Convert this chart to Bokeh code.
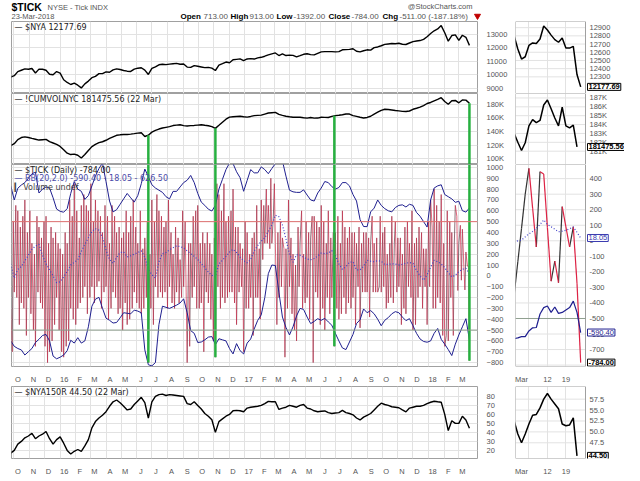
import numpy as np
import pandas as pd
from bokeh.plotting import figure
from bokeh.layouts import column, row
from bokeh.models import FixedTicker, Span, Label, Range1d
from bokeh.core.properties import value
from bokeh.embed import file_html
from bokeh.resources import INLINE

# ---------------- data ----------------
# weekly values, Fridays 2015-09-25 .. 2018-03-23
nya_weekly = [
    9850, 9950, 10250, 10350, 10450, 10420, 10480, 10150, 10430, 10420, 10350, 10050, 10020, 10250,
    10140, 9650, 9450, 9300, 9400, 9250, 9050, 9350, 9550, 9800, 9900, 10100, 10100,
    10230, 10200, 10380, 10450, 10400, 10330, 10280, 10260, 10430, 10500, 10530, 10360, 10040,
    10480, 10600, 10750, 10790, 10760, 10800, 10830, 10850, 10790, 10810, 10580, 10560, 10690, 10640,
    10590, 10540, 10560, 10500, 10330, 10720, 10830, 10950, 10900, 11120, 11150, 11180, 11060,
    11180, 11200, 11170, 11260, 11300, 11380, 11480, 11550, 11620, 11430, 11560, 11430, 11460,
    11440, 11330, 11420, 11520, 11560, 11500, 11480, 11590, 11700, 11720, 11720, 11720, 11700,
    11720, 11850, 11860, 11880, 11930, 11740, 11700, 11780, 11850, 11830, 12010, 12060, 12150,
    12250, 12280, 12310, 12300, 12330, 12260, 12240, 12350, 12450, 12500, 12530, 12620, 12810,
    13050, 13250, 13380, 13630, 13100, 12480, 12900, 12950, 12550, 12920, 12770, 12177.69]

cumvol_weekly_k = [
    119, 122, 128, 131, 132, 131, 129.7, 128.5, 127.3, 127.8, 128.3, 125, 123, 121,
    118, 113, 108, 106, 106.7, 105, 101, 106, 112, 117.7, 121, 123.5, 124.8, 127, 129.7, 132,
    134.3, 135, 135.4, 135.4, 136, 136.7, 137.5, 138, 132.5, 134.5, 139, 141.6, 143.5, 145, 146,
    147, 148.6, 149.3, 149.8, 148.5, 148, 148.5, 148.8, 149.3, 149.8, 149, 148.3, 147, 144.5, 149,
    153.6, 158, 161, 161.5, 162, 162.3, 161.5,
    161, 162, 163.2, 163.6, 164, 165.5, 167, 167.5, 168, 165, 163.5, 162.3, 161.5, 160.8, 160.8,
    160.8, 160, 159.5, 160.5, 159.5, 159.6, 160.8, 160.6, 160.4, 162, 163.2, 163.8, 164.5, 165.5,
    165.5, 163.2, 162, 160.8, 159.8, 160.5, 162.3, 165.5, 168.3, 171, 172.5, 172.2, 171.5, 170.7,
    170.2, 169.5, 169.2, 170, 172.5, 174, 175.6, 178, 181,
    182.5, 185, 187, 189.6, 184, 180, 185, 185.5, 182, 186.2, 186, 181.47556]

nya150r_weekly = [
    17, 20, 27, 30, 34, 36, 39, 33, 36, 38, 41, 33, 27, 32,
    35, 28, 20, 16, 19, 21, 19, 25, 32, 45, 52, 56, 59, 63, 69, 74, 76, 73,
    69, 65, 66, 71, 75, 79, 73, 56, 74, 80, 82, 82.5, 81, 82, 81.5, 81, 80.5,
    80, 72, 71, 74, 70, 66, 61, 58, 54, 40, 52, 55, 58, 60, 64, 64.5, 64, 63,
    67, 68, 68.5, 69, 70, 72, 74.5, 74, 74, 65.5, 67, 68, 70, 69, 68, 70, 71,
    67, 66, 64, 63, 63.5, 63.8, 62, 61, 61.5, 62, 64.5, 62, 61, 59.5, 56, 53.8, 57,
    59, 61, 65, 69, 72.5, 71, 70, 68.5, 68, 67.4, 65, 62.8, 67, 68, 69, 69, 70, 72,
    73.5, 74.6, 74, 73.5, 60, 42, 53, 50, 50, 58, 53.8, 44.5]

bb_upper_weekly = [
    830, 700, 808, 838, 860, 900, 941, 956, 764, 800, 820, 810, 720, 616, 595, 587, 620, 760, 870, 800,
    780, 705, 740, 830, 920, 990, 1040, 870, 690, 590, 610, 660, 710, 760, 720, 680, 740, 850, 985, 915,
    840, 810, 790, 770, 730, 710, 779, 779, 820, 860, 882, 926, 860, 760, 680, 650, 615, 598, 650, 800,
    890, 980, 1040, 1035, 960, 905, 780, 880, 980, 950, 950, 1005, 980, 942, 990, 1035, 1080, 1060, 920,
    790, 775, 770, 770, 793, 745, 700, 690, 764, 810, 870, 860, 823, 800, 815, 860, 860, 830, 750, 690,
    520, 455, 454, 590, 625, 700, 650, 620, 600, 590, 630, 650, 655, 635, 660, 650, 585, 550, 500, 450,
    700, 810, 830, 840, 750, 730, 710, 678, 688, 601, 588, 626.5]

bb_middle_weekly = [
    110, -20, 60, 85, 140, 190, 245, 275, 290, 190, 110, 55, 0, -63, -55, -10, 40, 100, 125, 150,
    225, 290, 351, 410, 435, 420, 351, 240, 150, 115, 170, 215, 220, 175, 185, 200, 215, 230, 173, 60,
    10, -20, 130, 205, 215, 240, 260, 277, 270, 258, 230, 205, 180, 150, 115, 75, 35, 5, -10, 110,
    145, 180, 220, 245, 215, 173, 140, 120, 150, 230, 280, 320, 350, 410, 470, 560, 545, 470, 340, 200,
    125, 195, 190, 173, 155, 148, 160, 183, 210, 205, 210, 233, 190, 110, 60, 85, 125, 130, 55, 55,
    90, 144, 135, 130, 140, 135, 105, 105, 112, 108, 100, 107, 116, 124, 115, 50, 0, -40, 10, 80,
    144, 130, 110, 75, 30, -10, 5, 40, 60, 70, 18.05]

bb_lower_weekly = [
    -600, -650, -670, -683, -730, -700, -670, -615, -585, -550, -540, -600, -740, -765, -750, -730,
    -690, -594, -620, -570, -620, -600, -470, -280, -215, -198, -299, -390, -410, -435, -430, -387,
    -340, -345, -350, -316, -325, -340, -683, -820, -830, -800, -450, -280, -290, -300, -285, -270,
    -250, -212, -340, -505, -530, -615, -610, -590, -565, -560, -635, -580, -590, -600, -670, -720,
    -625, -690, -720, -620, -582, -490, -410, -360, -200, 20, 100, 95, -150, -380, -476, -545, -470,
    -370, -300, -310, -380, -440, -420, -395, -410, -392, -425, -455, -530, -600, -665, -680, -610,
    -540, -440, -405, -305, -340, -320, -350, -400, -460, -410, -385, -350, -330, -340, -380, -413,
    -395, -460, -530, -582, -605, -612, -600, -530, -485, -585, -630, -680, -735, -630, -545, -470,
    -395, -590.4]

# $TICK closes: Fri 2015-09-25, then Mon / Wed / Fri of every week up to 2018-03-23
tick_2015 = [
    -300,
    -700, 500, -150, 650, -200, 600, -450, 450, -250, 550, -300, 700, -550, 400, -200,
    600, -350, 300, -500, 200, -650, 550, -150, 450, -250, 350, -300, 500, -650, 550,
    -800, 300, -700, 450, -600, 350, -450, 400, -200, 300, -500, 250]
tick_2016 = [
    -700, 200, -750, 400, -650, 300, -600, 700, -300, 550, -400, 850,
    -450, 600, -300, 350, -250, 650, -200, 750, -100, 650, -350, 600,
    -200, 850, -100, 500, -250, 700, -100, 600, -50, 550, -300, 400, -150, 650, -100,
    550, -400, 300, -300, 650, -150, 550, -200, 400, -350, 450, -300,
    350, -500, 400, -250, 600, -450, 400, -400, 550, -300, 700, -150, 450, -250, 300,
    -300, 600, -350, 250, -300, 350, -200, 500, -800, 200, -300, 700,
    -450, 500, -100, 750, -200, 600, -150, 550, -200, 450, -150, 500,
    -300, 700, -100, 400, -250, 200, -300, 450, -150, 350, -250, 150, -200, 600, -100,
    500, -150, -800, 300, -650, 300, -200, 550, -100, 600, -300, 650,
    -300, 300, -250, 400, -700, 300, -150, 400, -250, 300, -400, 200, -600, 350, -750,
    850, -100, 750, -300, 600, -200, 850, -250, 500, -200, 550, -150,
    600, -150, 800, -250, 450, -450, 450, -150, 300, -100, 250, -700]
tick_2017 = [
    500, -300, 400, -300, 200, -200, 350, -550, 400, -200, 650, -200, 250, -400, 700,
    150, 650, 300, 800, 300, 650, 250, 900, 300, 550, 850, 300,
    -450, 400, -200, 500, -100, 350, 250, -750, 250, -300, 700, -100,
    350, -350, 200, -500, 100, -600, 450, -100, 300, 600, -300, 200,
    -250, 500, -200, 400, -400, 350, 550, -800, 550, -150, 500, -200, 450, -450, 650,
    -300, 500, -500, 300, -200, 600, -350, 350, -200, 400, -650, 400,
    -300, 550, -400, 300, -350, 600, -200, 450, -350, 350, -250, 450, -300, 400, -200,
    400, -450, 300, -100, 450, -480, 300, -150, 400, -150, 400, -150,
    350, -380, 300, 550, -150, 300, -150, 350, -150, -100, 550, -150,
    400, -100, 450, -300, 200, -250, 300, -200, 550, -250, 300, 500, -150, 350, -100,
    350, -450, 200, -300, 450, -350, 500, -100, 300, -200, 600, -500,
    300, -450, 350, -200, 450, -100, 400, -300, 250, -100, 250, -450]
tick_2018 = [
    500, -100, 700, 450, -300, 800, -300, 650, -200, 500, -250, 750, -550, 300, -650,
    -550, 600, -600, 500, -200, 400, -550, 300, 650, 550, -135, 300,
    466, -40, 430, 85, -130, 220, 90, 90, -784]
tick_values = tick_2015 + tick_2016 + tick_2017 + tick_2018

# daily detail, 2018-02-27 .. 2018-03-23 (trading days)
mini_nya = [12800, 12640, 12517, 12545, 12683, 12714, 12707, 12762, 12920, 12872, 12809,
            12754, 12722, 12774, 12651, 12651, 12671, 12328, 12177.69]
mini_cumvol_k = [183.0, 182.0, 181.08, 181.95, 183.86, 184.56, 184.21, 184.46, 186.2, 186.76,
                 185.78, 184.74, 183.86, 185.95, 183.86, 183.62, 183.93, 181.47556]
mini_tick = [-350, -135, 80, 300, 466, 210, -40, 445, 430, 85, -260, -130, -270, 220, 90,
             -40, 90, -273, -784]
mini_bb_middle = [-8, 0, 5, 25, 45, 60, 80, 105, 134, 105, 90, 75, 58, 62, 68, 78, 89, 55, 18.05]
mini_bb_lower = [-630, -625, -617, -617, -580, -560, -558, -471, -430, -420, -461, -426, -467,
                 -461, -445, -430, -388, -461, -590.4]
mini_nya150r = [52.5, 49.5, 47.5, 49.5, 51.8, 53.8, 54.0, 55.5, 57.5, 58.8, 57.5, 56.4, 55.3,
                51.8, 51.4, 51.6, 53.2, 44.5]

month_labels = ["O", "N", "D", "16", "F", "M", "A", "M", "J", "J", "A", "S", "O", "N", "D",
                "17", "F", "M", "A", "M", "J", "J", "A", "S", "O", "N", "D", "18", "F", "M"]
mini_axis_labels = {2: "Mar", 9: "12", 14: "19"}
mini_grid_days = [4, 9, 14]
marker_dates = ["2016-06-24", "2016-11-04", "2017-06-28", "2018-03-23"]
tick_levels = {"upper": 500, "lower": -500}

nya_ticks = [9000, 10000, 11000, 12000, 13000]
cumvol_ticks = [100, 120, 140, 160, 180]
tick_axis = [-800, -700, -600, -500, -400, -300, -200, -100, 0, 100, 200, 300, 400, 500,
             600, 700, 800, 900, 1000]
r150_ticks = [20, 30, 40, 50, 60, 70, 80]
mini_nya_ticks = [12300, 12400, 12500, 12600, 12700, 12800, 12900]
mini_cumvol_ticks = [181, 182, 183, 184, 185, 186, 187]
mini_tick_axis = [-800, -700, -600, -500, -400, -300, -200, -100, 0, 100, 200, 300, 400]
mini_r150_ticks = [47.5, 50.0, 52.5, 55.0, 57.5]

# ---------------- helpers ----------------
AXIS_FONT = "Liberation Sans"
TXT_FONT = "DejaVu Sans"
GRID = "#e2e2e2"
LBL = "#555555"
NAVY = "#1f1f8f"
BLUE = "#4040c8"
GREEN = "#27b040"
OUTLINE = "#a0a0a0"

MAIN_FW = 466
MINI_DATA_W = 70
MINI_FW = 109


def to_ms(dates):
    return pd.DatetimeIndex(dates).values.astype("datetime64[ms]").astype("int64")


week_x = to_ms(pd.date_range("2015-09-25", periods=len(nya_weekly), freq="7D")).astype(float)
fridays = pd.date_range("2015-09-25", periods=131, freq="7D")
mondays = pd.date_range("2015-09-28", periods=130, freq="7D")
wednesdays = pd.date_range("2015-09-30", periods=130, freq="7D")
tick_x = to_ms(fridays.append(mondays).append(wednesdays).sort_values()).astype(float)
tick_y = np.array(tick_values, dtype=float)
assert len(tick_x) == len(tick_y)

month_starts = pd.date_range("2015-10-01", "2018-03-01", freq="MS")
grid_x = [int(v) for v in to_ms(month_starts)]
label_x = [int(v) for v in to_ms(month_starts + pd.Timedelta(days=8))]
x_start = float(to_ms(["2015-09-26 12:00"])[0])
x_end = float(to_ms(["2018-04-08"])[0])
main_xr = Range1d(x_start, x_end)

MINI_X0 = 0.37
MINI_DR = 19.3           # right edge of the detail data area
mini_xr = Range1d(MINI_X0, MINI_X0 + (MINI_DR - MINI_X0) * MINI_FW / MINI_DATA_W)
mini_days = np.arange(len(mini_nya), dtype=float)


def style_axis(ax, ticks, overrides=None, standoff=3):
    ax.ticker = FixedTicker(ticks=ticks)
    if overrides:
        ax.major_label_overrides = overrides
    ax.axis_line_color = None
    ax.major_tick_line_color = None
    ax.minor_tick_line_color = None
    ax.major_label_text_font = AXIS_FONT
    ax.major_label_text_font_size = "7.5px"
    ax.major_label_text_color = LBL
    ax.major_label_standoff = standoff


def main_fig(fh, yr, yticks, yover=None, xaxis=False, bottom=0):
    p = figure(frame_width=MAIN_FW, frame_height=fh, x_range=main_xr, y_range=Range1d(*yr),
               output_backend="svg", toolbar_location=None, title=None,
               y_axis_location="right", min_border_left=11, min_border_right=35,
               min_border_top=0, min_border_bottom=bottom)
    p.outline_line_color = OUTLINE
    p.border_fill_color = "white"
    p.xgrid.ticker = FixedTicker(ticks=grid_x)
    p.ygrid.ticker = FixedTicker(ticks=yticks)
    p.xgrid.grid_line_color = GRID
    p.ygrid.grid_line_color = GRID
    style_axis(p.yaxis[0], yticks, yover)
    if xaxis:
        style_axis(p.xaxis[0], label_x, dict(zip(label_x, month_labels)), standoff=2)
    else:
        p.xaxis.visible = False
    return p


def mini_fig(fh, yr, yticks, ylabels, xaxis=False, bottom=0):
    p = figure(frame_width=MINI_FW, frame_height=fh, x_range=mini_xr, y_range=Range1d(*yr),
               output_backend="svg", toolbar_location=None, title=None,
               y_axis_location=None, min_border_left=3, min_border_right=0,
               min_border_top=0, min_border_bottom=bottom)
    p.outline_line_color = None
    p.border_fill_color = "white"
    p.xgrid.ticker = FixedTicker(ticks=mini_grid_days)
    p.xgrid.grid_line_color = GRID
    p.ygrid.visible = False
    n = len(yticks)
    p.segment([MINI_X0] * n, yticks, [MINI_DR] * n, yticks, line_color=GRID, line_width=1)
    p.quad(left=[MINI_X0], right=[MINI_DR], bottom=[yr[0]], top=[yr[1]],
           fill_color=None, line_color=OUTLINE, line_width=1)
    p.text(x=[MINI_DR] * n, y=yticks, text=ylabels, x_offset=4, text_baseline="middle",
           text_align="left", text_font=value(AXIS_FONT), text_font_size="7.5px",
           text_color=LBL)
    if xaxis:
        style_axis(p.xaxis[0], list(mini_axis_labels.keys()), mini_axis_labels, standoff=2)
    else:
        p.xaxis.visible = False
    return p


def legend(p, lines):
    for i, (txt, col) in enumerate(lines):
        p.text(x=[p.x_range.start], y=[p.y_range.end], text=[txt], text_font=value(TXT_FONT),
               text_font_size="8px", text_color=col, text_baseline="top", text_align="left",
               x_offset=3, y_offset=1 + 8.5 * i)


def tag(p, y, txt, col, bold=False):
    p.add_layout(Label(x=MINI_DR, y=y, text=txt, x_offset=2, text_baseline="middle",
                       text_font=AXIS_FONT, text_font_size="7.5px", text_color=col,
                       text_font_style="bold" if bold else "normal",
                       border_line_color=col, background_fill_color="white", padding=1))


# ---------------- header ----------------
hdr = figure(width=624, height=21, x_range=Range1d(0, 624), y_range=Range1d(21, 0),
             output_backend="svg", toolbar_location=None, title=None, min_border=0,
             x_axis_type=None, y_axis_type=None)
hdr.grid.visible = False
hdr.outline_line_color = None
hdr.text(x=[11], y=[6], text=["$TICK"], text_font=value(AXIS_FONT), text_font_size="10.5px",
         text_font_style="bold", text_color="#000", text_baseline="middle")
hdr.text(x=[47], y=[6.5], text=["NYSE - Tick INDX"], text_font=value(AXIS_FONT),
         text_font_size="7.5px", text_color=LBL, text_baseline="middle")
hdr.text(x=[11], y=[15.5], text=["23-Mar-2018"], text_font=value(AXIS_FONT),
         text_font_size="7.5px", text_color=LBL, text_baseline="middle")
hdr.text(x=[472], y=[6], text=["@StockCharts.com"], text_font=value(AXIS_FONT),
         text_font_size="7.5px", text_color=LBL, text_baseline="middle", text_align="right")
quote_parts = [("Open", True, 180), ("713.00", False, 203), ("High", True, 230),
               ("913.00", False, 249), ("Low", True, 276), ("-1392.00", False, 293),
               ("Close", True, 328), ("-784.00", False, 351), ("Chg", True, 382),
               ("-511.00 (-187.18%)", False, 399)]
for txt, bold, xp in quote_parts:
    hdr.text(x=[xp], y=[15.5], text=[txt], text_font=value(AXIS_FONT), text_font_size="8px",
             text_font_style="bold" if bold else "normal",
             text_color="#000" if bold else LBL, text_baseline="middle")
hdr.scatter(x=[477], y=[15.5], marker="inverted_triangle", size=6, color="#c00000")

# ---------------- main panels ----------------
p1 = main_fig(72, (8640, 13930), nya_ticks)
p1.line(week_x, nya_weekly, line_color="#000", line_width=1.4)
legend(p1, [(f"\u2014 $NYA {nya_weekly[-1]:.2f}", "#222")])

p2 = main_fig(71, (91.4, 195.7), cumvol_ticks, {v: f"{v}K" for v in cumvol_ticks})
p2.line(week_x, cumvol_weekly_k, line_color="#000", line_width=1.4)
legend(p2, [(f"\u2014 !CUMVOLNYC {cumvol_weekly_k[-1]*1000:.2f} (22 Mar)", "#222")])

mark_x = to_ms(pd.DatetimeIndex(marker_dates)).astype(float)
mark_cv = np.interp(mark_x, week_x, cumvol_weekly_k)
p2.segment(mark_x, mark_cv, mark_x, [p2.y_range.start] * len(mark_x),
           line_color=GREEN, line_width=2.5)

p3 = main_fig(202, (-836, 1027), tick_axis, None, True, 11)
p3.add_layout(Span(location=tick_levels["upper"], dimension="width", line_color="#e07070", line_width=1))
p3.add_layout(Span(location=tick_levels["lower"], dimension="width", line_color="#8f9f8f", line_width=1))
up = tick_y[1:] >= tick_y[:-1]
dn = ~up
p3.segment(tick_x[:-1][up], tick_y[:-1][up], tick_x[1:][up], tick_y[1:][up],
           line_color="#4a1a28", line_width=0.9, line_alpha=0.7)
p3.segment(tick_x[:-1][dn], tick_y[:-1][dn], tick_x[1:][dn], tick_y[1:][dn],
           line_color="#d42a4a", line_width=0.9, line_alpha=0.8)
p3.line(week_x, bb_upper_weekly, line_color=NAVY, line_width=1)
p3.line(week_x, bb_lower_weekly, line_color=NAVY, line_width=1)
p3.line(week_x, bb_middle_weekly, line_color=BLUE, line_width=1.2, line_dash="1 2")
mark_tick = np.interp(mark_x, tick_x, tick_y)
p3.segment(mark_x, [p3.y_range.end] * len(mark_x), mark_x, mark_tick,
           line_color=GREEN, line_width=2.5)
legend(p3, [(f"\u2014 $TICK (Daily) {tick_values[-1]:.2f}", "#222"),
            (f"\u2014 BB(20,2.0) {bb_lower_weekly[-1]:.2f} - {bb_middle_weekly[-1]:.2f} - {bb_upper_weekly[-1]:.2f}", "#4a4aa8"),
            ("\u258e Volume undef", "#444")])

p4 = main_fig(72, (11, 91), r150_ticks, None, True, 14)
p4.line(week_x, nya150r_weekly, line_color="#000", line_width=1.4)
legend(p4, [(f"\u2014 $NYA150R {nya150r_weekly[-1]:.2f} (22 Mar)", "#222")])

# ---------------- detail panels ----------------
m1 = mini_fig(72, (12097, 12975), mini_nya_ticks, [str(v) for v in mini_nya_ticks])
m1.line(mini_days, mini_nya, line_color="#000", line_width=1.5)
tag(m1, mini_nya[-1], f"{mini_nya[-1]:.2f}", "#000", True)

m2 = mini_fig(71, (179.5, 187.5), mini_cumvol_ticks, [f"{v}K" for v in mini_cumvol_ticks])
m2.line(mini_days[:len(mini_cumvol_k)], mini_cumvol_k, line_color="#000", line_width=1.5)
tag(m2, mini_cumvol_k[-1], f"{mini_cumvol_k[-1]*1000:.2f}", "#000", True)

m3 = mini_fig(202, (-809, 491), mini_tick_axis, [str(v) for v in mini_tick_axis], True, 11)
for lvl, col in ((tick_levels["upper"], "#e07070"), (tick_levels["lower"], "#8f9f8f")):
    m3.segment([MINI_X0], [lvl], [MINI_DR], [lvl], line_color=col, line_width=1)
mt = np.array(mini_tick, dtype=float)
mup = mt[1:] >= mt[:-1]
m3.segment(mini_days[:-1][mup], mt[:-1][mup], mini_days[1:][mup], mt[1:][mup],
           line_color="#333333", line_width=1.2)
m3.segment(mini_days[:-1][~mup], mt[:-1][~mup], mini_days[1:][~mup], mt[1:][~mup],
           line_color="#dd2244", line_width=1.2)
m3.line(mini_days, mini_bb_lower, line_color=NAVY, line_width=1.2)
m3.line(mini_days, mini_bb_middle, line_color=BLUE, line_width=1.2, line_dash="1 2")
tag(m3, mini_bb_middle[-1], f"{mini_bb_middle[-1]:.2f}", "#3a3ab0")
tag(m3, mini_bb_lower[-1], f"{mini_bb_lower[-1]:.2f}", NAVY)
tag(m3, mini_tick[-1], f"{mini_tick[-1]:.2f}", "#000", True)

m4 = mini_fig(72, (43.9, 60.4), mini_r150_ticks, [f"{v:.1f}" for v in mini_r150_ticks], True, 14)
m4.line(mini_days[:len(mini_nya150r)], mini_nya150r, line_color="#000", line_width=1.5)
tag(m4, mini_nya150r[-1], f"{mini_nya150r[-1]:.2f}", "#000", True)

left = column(p1, p2, p3, p4, spacing=0)
right = column(m1, m2, m3, m4, spacing=0)
layout = column(hdr, row(left, right, spacing=0), spacing=0)

open("out.html", "w").write(file_html(layout, INLINE))
